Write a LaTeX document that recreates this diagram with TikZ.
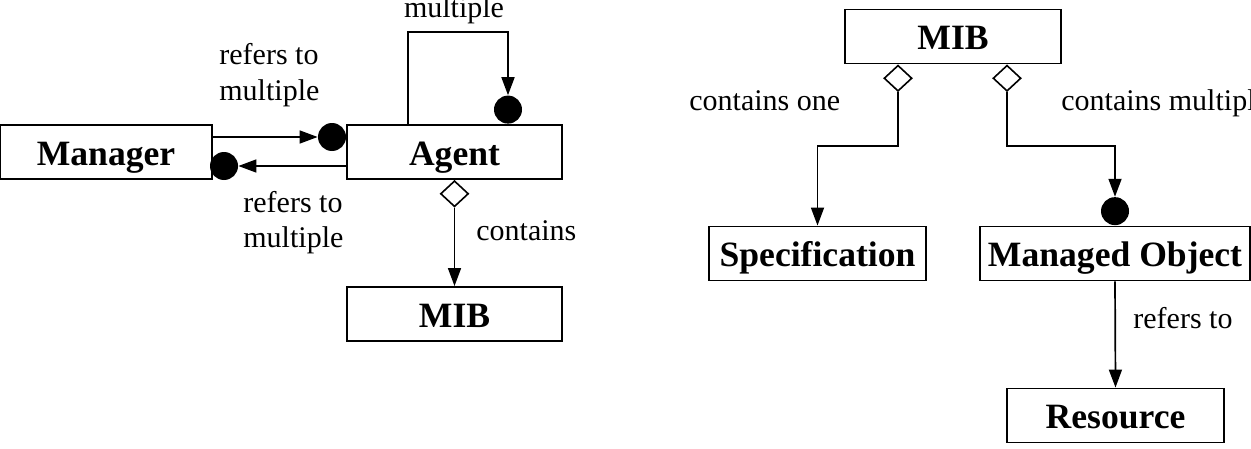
\documentclass[tikz,border=0pt]{standalone}
\usepackage{fontspec}
\setmainfont{Liberation Serif}
\usetikzlibrary{arrows.meta,shapes.geometric}
\begin{document}
\begin{tikzpicture}[x=0.5pt,y=-0.5pt,
  cls/.style={draw,line width=0.95pt,minimum height=27pt,inner sep=0pt,text height=13pt,text depth=0pt,font=\fontsize{17.8}{20}\selectfont\bfseries},
  lbl/.style={inner sep=0pt,anchor=base west,align=left,font=\fontsize{15}{17.5}\selectfont},
  dot/.style={circle,fill=black,minimum size=14pt,inner sep=0pt},
  agg/.style={diamond,draw,fill=white,line width=0.8pt,minimum width=14pt,minimum height=13pt,inner sep=0pt},
  conn/.style={line width=0.85pt,-{Triangle[length=9pt,width=6.5pt]}}]
\useasboundingbox (0,0) rectangle (1251,449);
% left diagram
\node[cls,minimum width=106pt] (manager) at (106,152) {Manager};
\node[cls,minimum width=107.5pt] (agent) at (454.5,152) {Agent};
\node[cls,minimum width=107.5pt] (mibl) at (454.5,314) {MIB};
\node[dot] (d1) at (332,137) {};
\node[dot] (d2) at (224,166) {};
\node[dot,anchor=south] (d3) at (508,124) {};
\node[agg,anchor=north] (a1) at (agent.south) {};
\draw[conn] (manager.east |- d1) -- (d1.west);
\draw[conn] (agent.west |- d2) -- (d2.east);
\draw[conn] ([xshift=31pt]agent.north west) -- ++(0,-92) -| (d3.north);
\draw[conn] (a1.south) -- (mibl.north);
\node[lbl,anchor=base] (lm) at (454,18) {multiple};
\node[lbl] (lr1) at (219,100) {refers to\\multiple};
\node[lbl] (lr2) at (243,247) {refers to\\multiple};
\node[lbl] (lc) at (476,240) {contains};
% right diagram
\node[cls,minimum width=108pt] (mibr) at (953,36.5) {MIB};
\node[cls,minimum width=108.5pt] (spec) at (817.5,253.5) {Specification};
\node[cls,minimum width=135pt] (mo) at (1115,253.5) {Managed Object};
\node[cls,minimum width=108.5pt] (res) at (1115.5,415.5) {Resource};
\node[agg,anchor=north] (a2) at ([xshift=-27.5pt]mibr.south) {};
\node[agg,anchor=north] (a3) at ([xshift=27pt]mibr.south) {};
\node[dot,anchor=south] (d4) at (mo.north) {};
\draw[conn] (a2.south) -- ++(0,54) -| (spec.north);
\draw[conn] (a3.south) -- ++(0,54) -| (d4.north);
\draw[conn] (mo.south) -- (res.north);
\node[lbl] (lco) at (689,111) {contains one};
\node[lbl] (lcm) at (1061,111) {contains multiple};
\node[lbl] (lrt) at (1133,328) {refers to};
\end{tikzpicture}
\end{document}
